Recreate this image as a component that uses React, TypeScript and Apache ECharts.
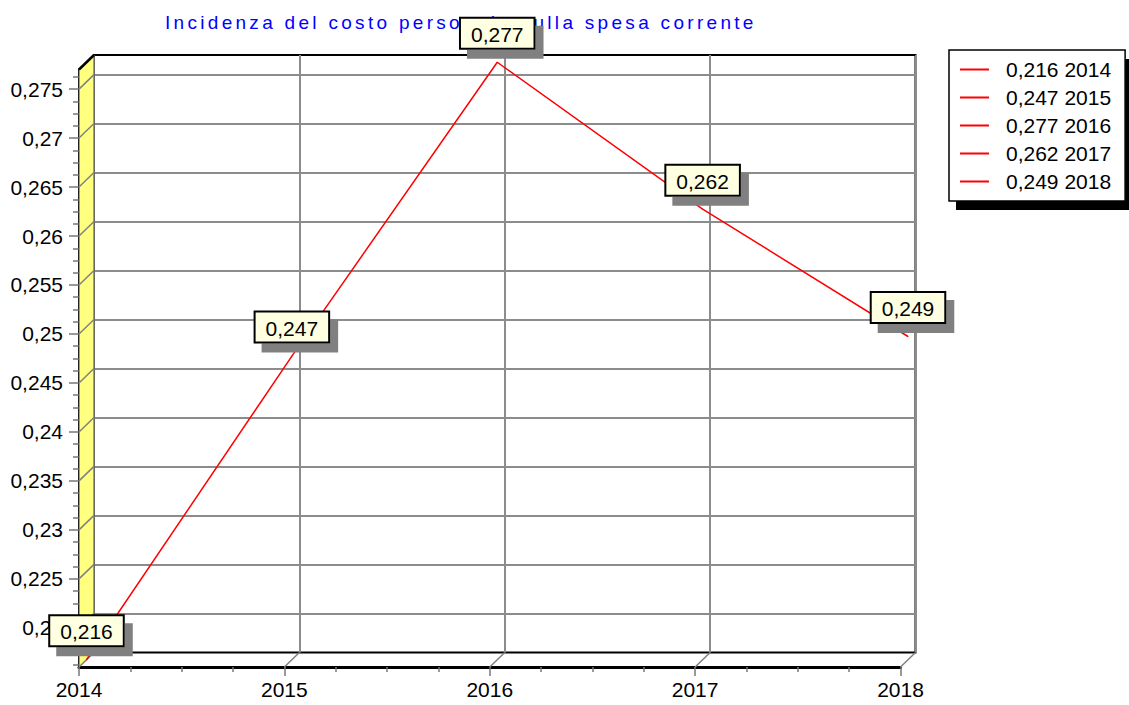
import React, { useEffect, useRef } from 'react';
import * as echarts from 'echarts';

const years = ['2014', '2015', '2016', '2017', '2018'];
const values = [0.216, 0.247, 0.277, 0.262, 0.249];
const yMin = 0.216;
const yMax = 0.277;
const yMajorTicks = [0.22, 0.225, 0.23, 0.235, 0.24, 0.245, 0.25, 0.255, 0.26, 0.265, 0.27, 0.275];
const titleText = 'Incidenza del costo personale sulla spesa corrente';

const FONT = '"Liberation Sans", Arial, Helvetica, sans-serif';

const fmt = (v: number) => String(parseFloat(Number(v).toFixed(4))).replace('.', ',');

// minor tick positions (4 subdivisions between major ticks)
const yStep = 0.00125;
const yMinorTicks: number[] = [];
for (let i = Math.ceil(yMin / yStep); i <= Math.floor(yMax / yStep); i++) {
  if (i % 4 !== 0) yMinorTicks.push(+(i * yStep).toFixed(5));
}
const xMinorTicks: number[] = [];
for (let i = 0; i <= (years.length - 1) * 4; i++) {
  if (i % 4 !== 0) xMinorTicks.push(i / 4);
}

const legendNames = values.map((v, i) => `${fmt(v)} ${years[i]}`);

// 3D layout (front plane, depth offset)
const DX = 15;
const DY = -14.5;
const FRONT = { left: 79, top: 69.5, width: 821.5, height: 597.5 };
const BACK = { left: FRONT.left + DX, top: FRONT.top + DY, width: FRONT.width, height: FRONT.height };
const MID = { left: FRONT.left + DX / 2, top: FRONT.top + DY / 2, width: FRONT.width, height: FRONT.height };

export default function App() {
  const ref = useRef<HTMLDivElement>(null);

  useEffect(() => {
    if (!ref.current) return;
    const chart = echarts.init(ref.current, null, { renderer: 'svg' });

    const option: any = {
      animation: false,
      backgroundColor: '#ffffff',
      textStyle: { fontFamily: FONT },
      title: {
        text: titleText,
        left: 165,
        top: 13,
        padding: 0,
        z: 1,
        textStyle: { color: '#0000ff', fontSize: 19, fontWeight: 'normal', fontFamily: FONT },
      },
      legend: {
        orient: 'vertical',
        left: 949,
        top: 50,
        data: legendNames.map((n) => ({ name: n, icon: 'rect' })),
        itemWidth: 29,
        itemHeight: 2,
        itemGap: 7,
        itemTextGap: 17,
        padding: [9, 14, 9, 11],
        backgroundColor: '#ffffff',
        borderColor: '#000000',
        borderWidth: 1.5,
        borderRadius: 0,
        selectedMode: false,
        z: 5,
        itemStyle: { color: '#ff0000', borderWidth: 0 },
        textStyle: { fontSize: 21, lineHeight: 21, color: '#000', fontFamily: FONT, padding: [0, 0, 0, 12] },
      },
      graphic: [
        {
          type: 'rect',
          z: 1,
          shape: { x: 956, y: 59, width: 177, height: 151 },
          style: { fill: '#000000' },
        },
      ],
      grid: [
        { ...FRONT, outerBoundsMode: 'none', containLabel: false },
        {
          ...BACK,
          outerBoundsMode: 'none',
          containLabel: false,
          show: true,
          borderColor: '#000000',
          borderWidth: 2,
          backgroundColor: 'transparent',
        },
        { ...MID, outerBoundsMode: 'none', containLabel: false },
      ],
      xAxis: [
        {
          type: 'category',
          gridIndex: 0,
          data: years,
          boundaryGap: false,
          axisLine: { show: true, onZero: false, lineStyle: { color: '#000', width: 3 } },
          axisTick: { show: true, interval: 0, length: 9, lineStyle: { color: '#777', width: 1.5 } },
          axisLabel: { show: true, interval: 0, fontSize: 21, color: '#000', margin: 12, fontFamily: FONT },
          splitLine: { show: false },
        },
        {
          type: 'value',
          gridIndex: 0,
          min: 0,
          max: years.length - 1,
          position: 'bottom',
          axisLine: { show: false, onZero: false },
          axisTick: { show: true, customValues: xMinorTicks, length: 5, lineStyle: { color: '#777', width: 1.5 } },
          axisLabel: { show: false },
          splitLine: { show: false },
        },
        {
          type: 'category',
          gridIndex: 1,
          data: years,
          boundaryGap: false,
          axisLine: { show: false, onZero: false },
          axisTick: { show: false },
          axisLabel: { show: false },
          splitLine: { show: true, interval: 0, lineStyle: { color: '#8c8c8c', width: 2 } },
        },
        {
          type: 'category',
          gridIndex: 2,
          data: years,
          boundaryGap: false,
          axisLine: { show: false, onZero: false },
          axisTick: { show: false },
          axisLabel: { show: false },
          splitLine: { show: false },
        },
      ],
      yAxis: [
        {
          type: 'value',
          gridIndex: 0,
          min: yMin,
          max: yMax,
          axisLine: { show: true, lineStyle: { color: '#000', width: 3 } },
          axisTick: { show: true, customValues: yMajorTicks, length: 10, lineStyle: { color: '#777', width: 1.5 } },
          axisLabel: {
            show: true,
            customValues: yMajorTicks,
            formatter: (v: number) => fmt(v),
            fontSize: 21,
            color: '#000',
            margin: 16,
            fontFamily: FONT,
          },
          splitLine: { show: false },
        },
        {
          type: 'value',
          gridIndex: 0,
          min: yMin,
          max: yMax,
          position: 'left',
          axisLine: { show: false },
          axisTick: { show: true, customValues: yMinorTicks, length: 6, lineStyle: { color: '#777', width: 1.5 } },
          axisLabel: { show: false },
          splitLine: { show: false },
        },
        {
          type: 'value',
          gridIndex: 1,
          min: yMin,
          max: yMax,
          axisLine: { show: false },
          axisTick: { show: false, customValues: yMajorTicks },
          axisLabel: { show: false, customValues: yMajorTicks },
          splitLine: { show: true, lineStyle: { color: '#8c8c8c', width: 2 } },
        },
        {
          type: 'value',
          gridIndex: 2,
          min: yMin,
          max: yMax,
          axisLine: { show: false },
          axisTick: { show: false },
          axisLabel: { show: false },
          splitLine: { show: false },
        },
      ],
      series: [
        {
          type: 'custom',
          name: 'wall',
          xAxisIndex: 0,
          yAxisIndex: 0,
          clip: false,
          z: 2,
          silent: true,
          data: [[0, yMin, yMax]],
          renderItem: (params: any, api: any) => {
            const pb = api.coord([api.value(0), api.value(1)]);
            const pt = api.coord([api.value(0), api.value(2)]);
            return {
              type: 'group',
              children: [
                {
                  type: 'polygon',
                  shape: { points: [pt, [pt[0] + DX, pt[1] + DY], [pb[0] + DX, pb[1] + DY], pb] },
                  style: { fill: '#ffff80', stroke: '#444', lineWidth: 1 },
                },
                {
                  type: 'line',
                  shape: { x1: pt[0], y1: pt[1], x2: pt[0] + DX, y2: pt[1] + DY },
                  style: { stroke: '#000', lineWidth: 2.5 },
                },
              ],
            };
          },
        },
        {
          type: 'custom',
          name: 'yConnectors',
          xAxisIndex: 0,
          yAxisIndex: 0,
          clip: false,
          z: 3,
          silent: true,
          data: yMajorTicks.map((v) => [0, v]),
          renderItem: (params: any, api: any) => {
            const p = api.coord([api.value(0), api.value(1)]);
            return {
              type: 'line',
              shape: { x1: p[0], y1: p[1], x2: p[0] + DX, y2: p[1] + DY },
              style: { stroke: '#808080', lineWidth: 1.5 },
            };
          },
        },
        {
          type: 'custom',
          name: 'xConnectors',
          xAxisIndex: 0,
          yAxisIndex: 0,
          clip: false,
          z: 3,
          silent: true,
          data: years.map((y, i) => [i, yMin]),
          renderItem: (params: any, api: any) => {
            const p = api.coord([api.value(0), api.value(1)]);
            return {
              type: 'line',
              shape: { x1: p[0], y1: p[1], x2: p[0] + DX, y2: p[1] + DY },
              style: { stroke: '#808080', lineWidth: 1.5 },
            };
          },
        },
        {
          type: 'line',
          name: 'Incidenza',
          xAxisIndex: 3,
          yAxisIndex: 3,
          data: values,
          z: 10,
          symbol: 'circle',
          symbolSize: 1,
          itemStyle: { color: '#ff0000' },
          lineStyle: { color: '#ff0000', width: 1.5 },
          label: {
            show: true,
            position: 'top',
            distance: 14,
            formatter: (p: any) => fmt(p.value),
            color: '#000',
            fontSize: 21,
            fontFamily: FONT,
            backgroundColor: '#ffffe1',
            borderColor: '#000',
            borderWidth: 2,
            padding: [5, 10, 3, 10],
            shadowColor: '#808080',
            shadowBlur: 0,
            shadowOffsetX: 8,
            shadowOffsetY: 9,
          },
        },
        ...legendNames.map((n) => ({
          type: 'line',
          name: n,
          xAxisIndex: 3,
          yAxisIndex: 3,
          data: [],
          symbol: 'none',
          itemStyle: { color: '#ff0000' },
          lineStyle: { color: '#ff0000', width: 2 },
        })),
      ],
    };

    chart.setOption(option);

    const texts = ref.current.querySelectorAll('text');
    texts.forEach((t) => {
      if (t.textContent === titleText) t.setAttribute('letter-spacing', '3.3');
    });

    return () => {
      chart.dispose();
    };
  }, []);

  return (
    <div
      ref={ref}
      style={{ position: 'fixed', left: 0, top: 0, width: 1129, height: 705, background: '#fff' }}
    />
  );
}
